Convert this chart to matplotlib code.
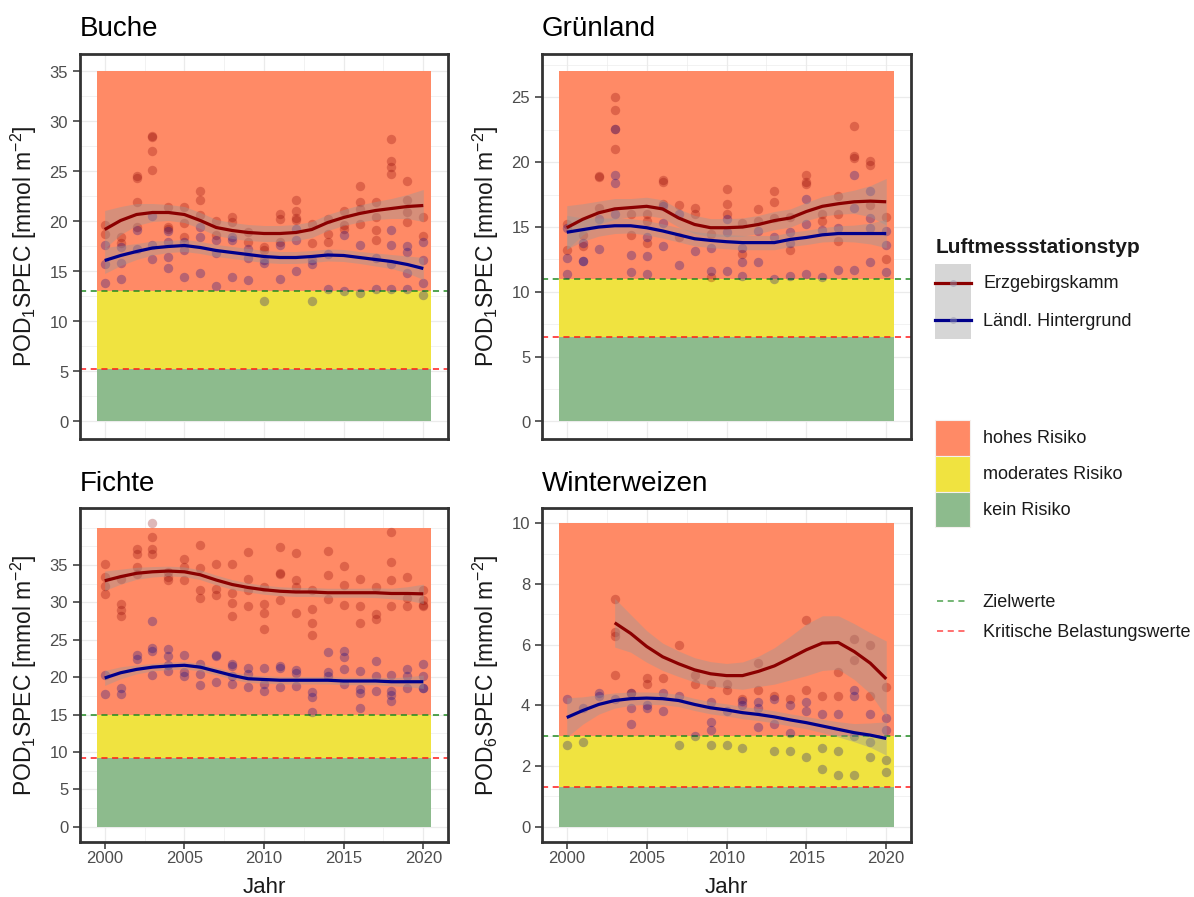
import numpy as np
import matplotlib
matplotlib.use('Agg')
import matplotlib.pyplot as plt
from matplotlib.patches import Patch
from matplotlib.lines import Line2D
from matplotlib.legend_handler import HandlerTuple, HandlerLine2D
from matplotlib.ticker import MultipleLocator

plt.rcParams['font.family'] = ['Liberation Sans', 'DejaVu Sans']
plt.rcParams['mathtext.fontset'] = 'custom'
plt.rcParams['mathtext.rm'] = 'Liberation Sans'

nan = np.nan
YEARS = list(range(2000, 2021))

# ---------------- Buche ----------------
buche_erz = [[19.6, 18.7], [18.4, 17.8], [24.5, 24.3, 21.9, 19.4], [28.5, 28.4, 27.0, 25.1],
             [21.4, 19.4, 19.2], [21.4, 19.8, 18.4], [23.0, 22.1, 20.6], [20.0, 18.6],
             [20.4, 19.9], [18.9, 17.9], [17.4, 17.1], [20.7, 20.2, 17.9],
             [22.1, 21.0, 20.3, 20.1], [19.7, 17.8], [20.2, 18.75, 17.9], [21.0, 19.6, 19.2],
             [23.5, 21.9, 21.2, 19.7], [21.9, 20.4, 19.1, 18.1], [28.2, 26.0, 25.4, 24.7],
             [24.0, 22.1, 20.9, 19.9], [20.4, 18.5]]
buche_laendl = [[17.6, 15.7, 13.8], [17.4, 15.8, 14.2], [19.1, 17.25], [20.5, 17.6, 16.2],
                [19.0, 17.9, 16.4, 15.3], [17.9, 17.1, 14.4], [19.4, 18.4, 14.8], [18.1, 16.8, 13.5],
                [18.4, 18.1, 14.4], [17.25, 16.3, 14.1], [16.1, 15.8, 12.0], [17.6, 14.2],
                [19.2, 18.1, 15.0], [16.1, 15.7, 12.0], [16.75, 13.2], [18.6, 13.0],
                [17.6, 12.8], [16.3, 13.2], [19.1, 17.6, 15.7, 13.2], [17.5, 16.9, 14.8, 13.2],
                [17.9, 16.1, 13.8, 12.6]]
buche_erz_fit = [19.2, 20.1, 20.7, 20.9, 20.9, 20.7, 20.1, 19.4, 19.1, 18.9, 18.8,
                 18.8, 18.9, 19.2, 19.9, 20.4, 20.8, 21.1, 21.3, 21.5, 21.6]
buche_erz_ci = [1.9, 1.4, 1.1, 0.9, 0.8, 0.8, 0.8, 0.8, 0.8, 0.8, 0.8,
                0.8, 0.8, 0.8, 0.8, 0.8, 0.85, 0.9, 1.0, 1.2, 1.6]
buche_laendl_fit = [16.1, 16.6, 17.0, 17.35, 17.5, 17.6, 17.4, 17.1, 16.9, 16.7, 16.5,
                    16.4, 16.4, 16.5, 16.65, 16.6, 16.4, 16.2, 16.0, 15.7, 15.3]
buche_laendl_ci = [1.3, 1.0, 0.8, 0.7, 0.6, 0.6, 0.6, 0.6, 0.6, 0.6, 0.6,
                   0.6, 0.6, 0.6, 0.6, 0.6, 0.6, 0.65, 0.7, 0.85, 1.1]

# ---------------- Grünland ----------------
gruen_erz = [[15.2, 13.2], [14.4, 13.5], [18.9, 18.85, 16.5], [25.0, 24.0, 22.6, 21.0],
             [16.0, 14.4], [16.0, 15.5, 13.8], [18.6, 18.5, 16.8], [16.7, 14.2],
             [16.5, 16.0], [14.5, 11.15], [17.95, 16.8, 16.0], [15.3, 12.9],
             [16.4, 15.5], [17.8, 16.9, 15.7], [15.8, 13.2], [19.0, 18.5, 18.3],
             [16.0, 15.5], [17.4, 16.0, 13.9], [22.8, 20.5, 20.3], [20.1, 19.8, 16.7],
             [15.8, 12.5]]
gruen_laendl = [[14.95, 12.6, 11.4], [13.8, 12.4, 12.4], [15.6, 13.3], [22.6, 19.05, 18.4, 16.0],
                [12.85, 11.5], [14.2, 12.8, 11.4], [16.6, 15.3, 13.5], [16.0, 12.1],
                [13.15], [13.4, 11.6], [15.6, 14.6, 11.6], [13.4, 12.3, 11.2],
                [14.7, 12.3], [14.2, 11.0], [14.6, 13.8, 11.2], [17.2, 15.2, 11.4],
                [14.8, 11.15], [14.95, 11.7], [19.0, 16.5, 11.7], [17.8, 15.7, 14.95, 12.3],
                [14.7, 13.6, 11.5]]
gruen_erz_fit = [14.95, 15.6, 16.1, 16.4, 16.5, 16.6, 16.4, 15.7, 15.2, 14.95, 14.95,
                 15.0, 15.2, 15.5, 15.7, 16.2, 16.6, 16.8, 16.95, 17.0, 16.95]
gruen_erz_ci = [1.7, 1.2, 0.9, 0.8, 0.7, 0.7, 0.7, 0.7, 0.7, 0.7, 0.7,
                0.7, 0.7, 0.7, 0.7, 0.7, 0.75, 0.8, 0.9, 1.2, 1.8]
gruen_laendl_fit = [14.6, 14.8, 15.0, 15.1, 15.1, 14.95, 14.7, 14.4, 14.1, 13.97, 13.87,
                    13.8, 13.8, 13.8, 14.05, 14.2, 14.4, 14.5, 14.5, 14.5, 14.5]
gruen_laendl_ci = [1.3, 0.9, 0.7, 0.6, 0.55, 0.55, 0.55, 0.55, 0.55, 0.55, 0.55,
                   0.55, 0.55, 0.55, 0.55, 0.55, 0.55, 0.6, 0.65, 0.8, 1.1]

# ---------------- Fichte ----------------
fichte_erz = [[35.2, 33.45, 32.2, 31.1], [33.1, 29.8, 29.0, 28.2], [37.2, 36.5, 34.8, 33.8],
              [40.6, 38.7, 37.2, 36.5], [34.1, 33.45, 33.0], [35.75, 34.8, 33.0],
              [37.7, 34.6, 31.7, 30.6], [35.1, 31.8, 31.0], [35.2, 31.2, 29.9, 28.2],
              [36.8, 33.2, 31.6, 29.55], [32.1, 29.8, 28.6, 26.45], [37.4, 34.0, 33.8, 30.35],
              [36.6, 33.0, 32.1, 28.6], [31.7, 29.1, 27.2, 25.7], [36.9, 33.7, 30.4],
              [34.9, 32.3, 29.7], [33.2, 29.5, 27.2], [32.0, 28.4, 27.8],
              [39.4, 35.4, 33.0, 29.5], [33.45, 30.6, 29.5], [31.7, 30.35, 29.7, 29.5]]
fichte_laendl = [[20.25, 17.8], [18.5, 17.7], [23.0, 22.4], [27.5, 23.9, 23.5, 20.25],
                 [23.8, 22.8, 21.7, 20.9], [23.0, 20.7, 20.2], [21.8, 20.5, 18.9],
                 [23.0, 22.8, 19.4], [21.8, 21.5, 20.2, 19.1], [21.3, 20.4, 18.7],
                 [21.3, 19.05, 18.2], [21.5, 21.3, 18.7], [21.0, 20.6, 18.8],
                 [18.0, 17.3, 15.4], [23.35, 20.7, 20.2], [23.5, 22.7, 21.1, 19.05],
                 [20.8, 18.4, 17.9, 15.95], [22.15, 20.2, 18.2], [20.25, 18.2, 17.6, 16.8],
                 [21.1, 20.2, 18.6], [21.8, 20.2, 18.6, 18.5]]
fichte_erz_fit = [32.9, 33.45, 33.9, 34.1, 34.2, 34.1, 33.7, 33.0, 32.4, 32.0, 31.7,
                  31.5, 31.4, 31.4, 31.3, 31.3, 31.3, 31.3, 31.2, 31.2, 31.15]
fichte_erz_ci = [1.3, 1.0, 0.8, 0.7, 0.65, 0.65, 0.65, 0.65, 0.65, 0.6, 0.6,
                 0.6, 0.6, 0.6, 0.6, 0.6, 0.6, 0.65, 0.7, 0.9, 1.3]
fichte_laendl_fit = [19.9, 20.6, 21.05, 21.35, 21.5, 21.6, 21.35, 20.8, 20.25, 19.8, 19.7,
                     19.6, 19.6, 19.6, 19.6, 19.5, 19.5, 19.5, 19.4, 19.4, 19.4]
fichte_laendl_ci = [1.0, 0.8, 0.6, 0.5, 0.5, 0.5, 0.5, 0.5, 0.5, 0.5, 0.5,
                    0.5, 0.5, 0.5, 0.5, 0.5, 0.5, 0.5, 0.55, 0.65, 0.9]

# ---------------- Winterweizen ----------------
ww_erz = [[], [], [], [7.5, 6.4, 6.3, 5.0], [4.4], [4.9, 4.7], [4.9], [6.0],
          [5.0, 4.7], [4.7], [4.7, 4.5], [4.2], [5.4, 4.5], [4.3], [4.2],
          [6.8, 4.5], [4.3], [5.1, 4.3], [6.2, 5.5], [6.0, 4.3], [4.6]]
ww_laendl = [[4.2, 2.7], [3.9, 2.8], [4.4, 4.3], [4.2], [4.4, 3.9, 3.4], [4.0, 3.9],
             [4.4, 3.8], [4.3, 2.7], [3.0], [4.1, 3.45, 3.2, 2.7], [3.8, 2.7],
             [4.15, 4.0, 2.6], [4.1, 3.9, 3.3], [4.2, 3.4, 2.5], [4.0, 3.1, 2.5],
             [4.1, 3.8, 2.3], [3.7, 2.6, 1.9], [3.7, 2.5, 1.7], [4.5, 4.3, 3.0, 1.7],
             [3.7, 2.8, 2.3], [3.6, 3.2, 2.2, 1.8]]
ww_erz_fit = [nan, nan, nan, 6.72, 6.37, 5.94, 5.6, 5.37, 5.17, 5.04, 4.98,
              4.98, 5.12, 5.3, 5.56, 5.83, 6.05, 6.07, 5.77, 5.39, 4.87]
ww_erz_ci = [nan, nan, nan, 0.8, 0.62, 0.52, 0.45, 0.42, 0.4, 0.4, 0.4,
             0.45, 0.5, 0.6, 0.72, 0.85, 0.9, 0.88, 0.92, 1.0, 1.25]
ww_laendl_fit = [3.6, 3.83, 4.03, 4.16, 4.22, 4.24, 4.22, 4.16, 4.03, 3.92, 3.85,
                 3.76, 3.7, 3.62, 3.52, 3.43, 3.32, 3.21, 3.1, 3.02, 2.91]
ww_laendl_ci = [0.65, 0.45, 0.32, 0.25, 0.22, 0.2, 0.2, 0.2, 0.2, 0.2, 0.2,
                0.2, 0.2, 0.2, 0.2, 0.2, 0.22, 0.25, 0.3, 0.4, 0.55]

# risk thresholds per panel: Buche, Grünland, Fichte, Winterweizen
panel_titles = ['Buche', 'Grünland', 'Fichte', 'Winterweizen']
risk_top = [35, 27, 40, 10]
target_values = [13, 11, 15, 3]
critical_values = [5.2, 6.5, 9.2, 1.3]
ytick_max = [35, 25, 35, 10]
ytick_step = [5, 5, 5, 2]
pod_index = ['1', '1', '1', '6']

station_labels = ['Erzgebirgskamm', 'Ländl. Hintergrund']
risk_labels = ['hohes Risiko', 'moderates Risiko', 'kein Risiko']
line_labels = ['Zielwerte', 'Kritische Belastungswerte']

# styles
ORANGE = '#FF8A66'
YELLOW = '#F0E340'
GREEN = '#8DBB8D'
RED_C = '#8B0000'
BLUE_C = '#00008B'
TARGET_C = '#228B22'
CRIT_C = '#FF1A1A'
text_color = '#1A1A1A'
tick_label_color = '#4D4D4D'
border_color = '#333333'

W, H = 1194, 897
fig = plt.figure(figsize=(W / 100, H / 100), dpi=100)
fig.patch.set_facecolor('white')


def px_axes(l, t, r, b):
  return fig.add_axes([l / W, 1 - b / H, (r - l) / W, (b - t) / H])


def key_height(row_px, fontsize):
  # matplotlib legend row height = fs*(0.65*hh + 0.245) points
  return (row_px * 0.72 / fontsize - 0.245) / 0.65


class CenteredLine(HandlerLine2D):
  # put the key line in the middle of the key box (like ggplot)
  def create_artists(self, legend, orig_handle, xdescent, ydescent, width, height, fontsize, trans):
    return super().create_artists(legend, orig_handle, xdescent, ydescent, width,
                                  height - ydescent, fontsize, trans)


panel_boxes = [(80, 54, 448, 439), (542, 54, 911, 439), (80, 508, 448, 842), (542, 508, 911, 842)]
panel_points = [(buche_erz, buche_laendl), (gruen_erz, gruen_laendl),
                (fichte_erz, fichte_laendl), (ww_erz, ww_laendl)]
panel_fits = [((buche_erz_fit, buche_erz_ci), (buche_laendl_fit, buche_laendl_ci)),
              ((gruen_erz_fit, gruen_erz_ci), (gruen_laendl_fit, gruen_laendl_ci)),
              ((fichte_erz_fit, fichte_erz_ci), (fichte_laendl_fit, fichte_laendl_ci)),
              ((ww_erz_fit, ww_erz_ci), (ww_laendl_fit, ww_laendl_ci))]

years = np.array(YEARS, dtype=float)
x0, x1 = years.min() - 0.5, years.max() + 0.5
xpad = 0.05 * (x1 - x0)

for i in range(4):
  ax = px_axes(*panel_boxes[i])
  bottom_row = i >= 2

  crit, targ, top = critical_values[i], target_values[i], risk_top[i]
  ax.fill_between([x0, x1], 0, crit, color=GREEN, lw=0, zorder=1)
  ax.fill_between([x0, x1], crit, targ, color=YELLOW, lw=0, zorder=1)
  ax.fill_between([x0, x1], targ, top, color=ORANGE, lw=0, zorder=1)
  ax.axhline(targ, color=TARGET_C, ls=(0, (4, 3)), lw=1.1, zorder=2)
  ax.axhline(crit, color=CRIT_C, ls=(0, (4, 3)), lw=1.1, zorder=2)

  all_vals = [top]
  for series, color in zip(panel_points[i], [RED_C, BLUE_C]):
    xs = [yr for yr, vals in zip(YEARS, series) for v in vals]
    ys = [v for vals in series for v in vals]
    all_vals += ys
    ax.scatter(xs, ys, s=46, color=color, alpha=0.28, lw=0, zorder=3)

  for (fit, ci), color in zip(panel_fits[i], [RED_C, BLUE_C]):
    fit = np.array(fit, dtype=float)
    ci = np.array(ci, dtype=float)
    m = ~np.isnan(fit)
    ax.fill_between(years[m], fit[m] - ci[m], fit[m] + ci[m], color='#999999', alpha=0.4, lw=0, zorder=4)
    ax.plot(years[m], fit[m], color=color, lw=2.3, zorder=5, solid_capstyle='butt')

  ymax = max(all_vals)
  ax.set_xlim(x0 - xpad, x1 + xpad)
  ax.set_ylim(-0.05 * ymax, ymax * 1.05)

  ax.set_xticks(range(2000, 2021, 5))
  ax.xaxis.set_minor_locator(MultipleLocator(2.5))
  ax.set_yticks(np.arange(0, ytick_max[i] + 0.1, ytick_step[i]))
  ax.yaxis.set_minor_locator(MultipleLocator(ytick_step[i] / 2))
  ax.grid(which='major', color='#EBEBEB', lw=0.9, zorder=0)
  ax.grid(which='minor', color='#EBEBEB', lw=0.45, zorder=0)
  ax.set_axisbelow(True)

  ax.tick_params(axis='both', which='major', direction='out', length=5, width=1.1,
                 color=border_color, labelcolor=tick_label_color, labelsize=12)
  ax.tick_params(axis='y', which='major', pad=3.5)
  ax.tick_params(axis='x', which='major', pad=1.8)
  ax.tick_params(which='minor', length=0)
  if not bottom_row:
    ax.tick_params(axis='x', which='major', length=0, labelbottom=False)
  else:
    ax.set_xlabel('Jahr', fontsize=16, color=text_color)
    ax.xaxis.set_label_coords(0.5, -0.104)

  for sp in ax.spines.values():
    sp.set_color(border_color)
    sp.set_linewidth(2.0)
    sp.set_zorder(10)

  ax.set_ylabel(r'POD$_\mathregular{' + pod_index[i] + r'}$SPEC [mmol m$^\mathregular{-2}$]',
                fontsize=16.5, color=text_color)
  ax.yaxis.set_label_coords(-0.111, 0.5)
  ax.set_title(panel_titles[i], loc='left', fontsize=20, color='black', pad=12.5 if bottom_row else 13)

# ---------------- legends ----------------
fs = 13
fig.text(936 / W, 1 - 253 / H, 'Luftmessstationstyp', fontsize=15, fontweight='bold',
         color=text_color, va='baseline', ha='left')

station_handles = [(Patch(facecolor='#D6D6D6', edgecolor='none'),
                    Line2D([], [], color=c, lw=2.3, marker='o', markersize=5,
                           markerfacecolor=(0.6, 0.6, 0.7, 0.5), markeredgecolor='none'))
                   for c in [RED_C, BLUE_C]]
leg1 = fig.legend(station_handles, station_labels, loc='upper left',
                  bbox_to_anchor=(935 / W, 1 - 264 / H), frameon=False, borderpad=0,
                  borderaxespad=0, handlelength=2.0, handleheight=key_height(37.5, fs),
                  labelspacing=0, handletextpad=0.67, fontsize=fs,
                  handler_map={tuple: HandlerTuple(ndivide=1), Line2D: CenteredLine()})

risk_handles = [Patch(facecolor=c, edgecolor='#F4F0EE', lw=0.8) for c in [ORANGE, YELLOW, GREEN]]
leg2 = fig.legend(risk_handles, risk_labels, loc='upper left',
                  bbox_to_anchor=(935 / W, 1 - 420 / H), frameon=False, borderpad=0,
                  borderaxespad=0, handlelength=1.94, handleheight=key_height(35.8, fs),
                  labelspacing=0, handletextpad=0.7, fontsize=fs)

line_handles = [Line2D([], [], color=TARGET_C, ls=(0, (4, 3)), lw=1.1, alpha=0.8),
                Line2D([], [], color=CRIT_C, ls=(0, (4, 3)), lw=1.1, alpha=0.8)]
leg3 = fig.legend(line_handles, line_labels, loc='upper left',
                  bbox_to_anchor=(937 / W, 1 - 594 / H), frameon=False, borderpad=0,
                  borderaxespad=0, handlelength=1.7, handleheight=0.7, labelspacing=0.72,
                  handletextpad=0.83, fontsize=fs)

for leg in [leg1, leg2, leg3]:
  for t in leg.get_texts():
    t.set_color(text_color)

fig.savefig('out.png', dpi=100, facecolor=fig.get_facecolor())
print('Saved Figure: out.png')
